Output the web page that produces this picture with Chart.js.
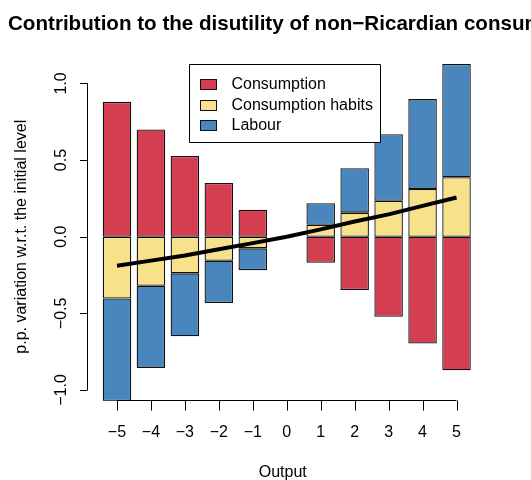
<!DOCTYPE html>
<html>
<head>
<meta charset="utf-8">
<script src="https://cdn.jsdelivr.net/npm/chart.js@4/dist/chart.umd.min.js"></script>
<style>
  html, body { margin: 0; padding: 0; background: #fff; }
  #wrap { width: 531px; height: 480px; }
</style>
</head>
<body>
<div id="wrap"><canvas id="disutility-chart" width="531" height="480"></canvas></div>
<script>
// output shock levels
const categories = ["−5", "−4", "−3", "−2", "−1", "0", "1", "2", "3", "4", "5"];
// contributions, p.p.
const consumption = [0.88, 0.70, 0.527, 0.351, 0.176, null, -0.17, -0.348, -0.523, -0.697, -0.871];
const habits      = [-0.403, -0.32, -0.239, -0.157, -0.076, null, 0.078, 0.157, 0.235, 0.312, 0.388];
const labour      = [-0.67, -0.536, -0.41, -0.276, -0.142, null, 0.14, 0.29, 0.434, 0.586, 0.739];
const total       = [-0.19, -0.156, -0.122, -0.082, -0.042, 0, 0.048, 0.099, 0.146, 0.201, 0.256];
const yTicks = [-1.0, -0.5, 0.0, 0.5, 1.0];
const yTickLabels = ["−1.0", "−0.5", "0.0", "0.5", "1.0"];

const seriesNames = ["Consumption", "Consumption habits", "Labour"];
const seriesColors = ["#d43e51", "#f7e18a", "#4886bd"];

const FONT = "'Liberation Sans', Arial, Helvetica, sans-serif";

// R style axes, title and legend
const rDecor = {
  id: 'rDecor',
  afterDraw(chart) {
    const ctx = chart.ctx;
    const x = chart.scales.x, y = chart.scales.y;
    ctx.save();
    ctx.strokeStyle = '#000';
    ctx.fillStyle = '#000';
    ctx.lineWidth = 1;

    // y axis
    const ax = 87;
    const yTop = y.getPixelForValue(yTicks[yTicks.length - 1]);
    const yBot = y.getPixelForValue(yTicks[0]);
    ctx.beginPath();
    ctx.moveTo(ax + 0.5, yTop); ctx.lineTo(ax + 0.5, yBot);
    yTicks.forEach(v => {
      const py = Math.round(y.getPixelForValue(v)) + 0.5;
      ctx.moveTo(ax + 0.5, py); ctx.lineTo(ax - 7, py);
    });
    ctx.stroke();
    ctx.font = '16px ' + FONT;
    ctx.textAlign = 'center';
    ctx.textBaseline = 'alphabetic';
    yTicks.forEach((v, i) => {
      ctx.save();
      ctx.translate(66, y.getPixelForValue(v));
      ctx.rotate(-Math.PI / 2);
      ctx.fillText(yTickLabels[i], 0, 0);
      ctx.restore();
    });
    ctx.save();
    ctx.translate(25.5, y.getPixelForValue(0));
    ctx.rotate(-Math.PI / 2);
    ctx.fillText('p.p. variation w.r.t. the initial level', 0, 0);
    ctx.restore();

    // x axis
    const ay = 400.5;
    const xL = x.getPixelForValue(0), xR = x.getPixelForValue(categories.length - 1);
    ctx.beginPath();
    ctx.moveTo(xL, ay); ctx.lineTo(xR, ay);
    categories.forEach((c, i) => {
      const px = Math.round(x.getPixelForValue(i)) + 0.5;
      ctx.moveTo(px, ay); ctx.lineTo(px, ay + 10);
    });
    ctx.stroke();
    categories.forEach((c, i) => {
      ctx.fillText(c, x.getPixelForValue(i), 437);
    });
    ctx.fillText('Output', (x.left + x.right) / 2 - 4, 477);

    // title (runs off the right edge, as in the original)
    ctx.font = 'bold 20.6px ' + FONT;
    ctx.textAlign = 'left';
    ctx.fillText('Contribution to the disutility of non−Ricardian consumers', 8, 30);

    // legend
    ctx.beginPath();
    ctx.rect(189.5, 64.5, 191, 78);
    ctx.fillStyle = '#fff';
    ctx.fill();
    ctx.stroke();
    ctx.font = '16px ' + FONT;
    ctx.textBaseline = 'middle';
    seriesNames.forEach((name, i) => {
      const ry = 84 + i * 20.5;
      ctx.fillStyle = seriesColors[i];
      ctx.fillRect(200.5, Math.round(ry - 5) + 0.5, 16, 10);
      ctx.strokeStyle = '#111';
      ctx.strokeRect(200.5, Math.round(ry - 5) + 0.5, 16, 10);
      ctx.fillStyle = '#000';
      ctx.fillText(name, 231.5, ry + 1);
    });
    ctx.restore();
  }
};

const barSet = (i, values) => ({
  type: 'bar',
  label: seriesNames[i],
  data: values,
  backgroundColor: seriesColors[i],
  borderColor: '#111',
  borderWidth: 1.3,
  borderSkipped: false,
  barPercentage: 0.84,
  categoryPercentage: 1.0
});

new Chart(document.getElementById("disutility-chart"), {
  data: {
    labels: categories,
    datasets: [
      {
        type: 'line',
        label: 'Total',
        data: total,
        borderColor: '#000',
        borderWidth: 4,
        pointRadius: 0,
        tension: 0,
        fill: false,
        order: -1
      },
      barSet(0, consumption),
      barSet(1, habits),
      barSet(2, labour)
    ]
  },
  options: {
    responsive: false,
    animation: false,
    layout: { padding: { left: 100, right: 57.5, top: 64, bottom: 79.3 } },
    scales: {
      x: { display: false, stacked: true },
      y: { display: false, stacked: true, min: -1.07, max: 1.127 }
    },
    plugins: {
      legend: { display: false },
      title: { display: false },
      tooltip: { enabled: false }
    }
  },
  plugins: [rDecor]
});
</script>
</body>
</html>
